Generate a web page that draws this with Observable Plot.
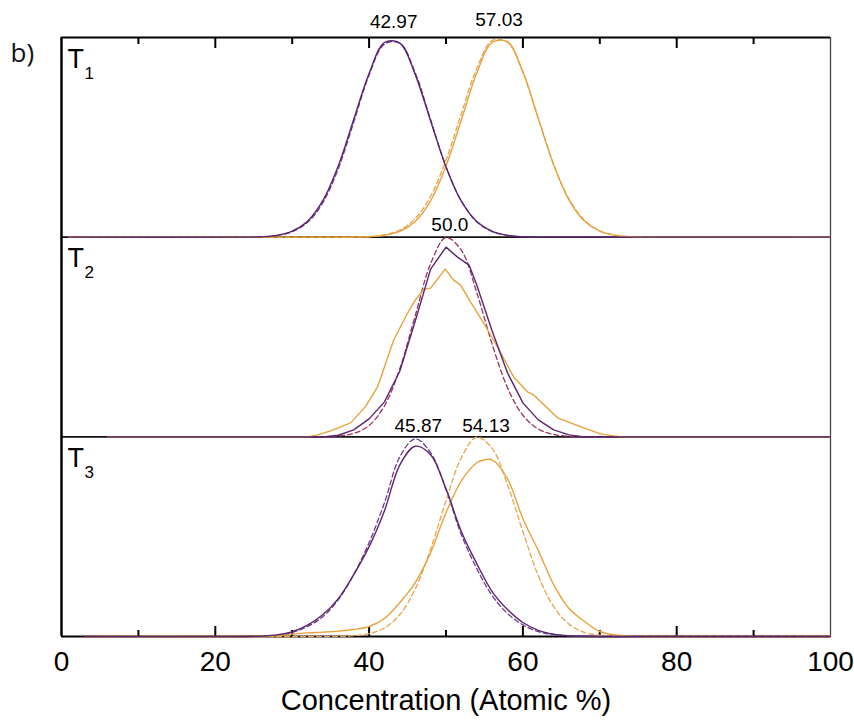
<!DOCTYPE html>
<html>
<head>
<meta charset="utf-8">
<script src="https://cdn.jsdelivr.net/npm/d3@7"></script>
<script src="https://cdn.jsdelivr.net/npm/@observablehq/plot@0.6"></script>
<style>
  html, body { margin: 0; padding: 0; background: #ffffff; }
  #chart svg { display: block; }
</style>
</head>
<body>
<div id="chart"></div>
<script>
// ---------------- data ----------------
const panelNames = ["T", "T", "T"];
const panelSubs = ["1", "2", "3"];

// common concentration grid (Atomic %)
const gridX = [24,26,28,30,32,34,36,38,40,42,44,46,48,50,52,54,56,58,60,62,64,66,68,70,72,74,76];

// T1 (normalised intensity)
const t1PurpleSolid  = [0,0.002,0.009,0.030,0.080,0.184,0.358,0.589,0.820,0.975,0.972,0.814,0.582,0.352,0.180,0.078,0.029,0.009,0.002,0,0,0,0,0,0,0,0];
const t1PurpleDashed = [0,0.002,0.008,0.027,0.074,0.174,0.344,0.576,0.812,0.967,0.971,0.823,0.588,0.354,0.180,0.077,0.028,0.009,0.002,0,0,0,0,0,0,0,0];
const t1OrangeSolid  = [0,0,0,0,0,0,0,0,0.002,0.009,0.029,0.079,0.182,0.356,0.588,0.822,0.975,0.978,0.828,0.595,0.362,0.186,0.081,0.030,0.009,0.002,0];
const t1OrangeDashed = [0,0,0,0,0,0,0,0.001,0.003,0.012,0.036,0.093,0.205,0.386,0.619,0.845,0.984,0.976,0.825,0.594,0.365,0.191,0.085,0.032,0.010,0.003,0];

// T2
const t2PurpleSolidX = [6,34,36,38,40,42,44,46,48,50,51.5,53,54,56,58,60,62,64,66,68,100];
const t2PurpleSolidY = [0,0,0.008,0.035,0.09,0.175,0.33,0.58,0.84,0.95,0.90,0.86,0.76,0.53,0.32,0.17,0.085,0.035,0.01,0,0];
const t2FitDashed    = [0,0,0,0,0,0,0.004,0.017,0.057,0.155,0.342,0.607,0.867,0.998,0.934,0.723,0.464,0.246,0.108,0.039,0.012,0.003,0,0,0,0,0];
const t2OrangeSolidX = [6,32,33.3,35,37.6,39.5,41.1,43.2,45,46,47.1,48,49.9,51,51.9,53.2,54.9,56.7,58.8,60.6,61.4,64.5,67.9,70.1,71.8,73,100];
const t2OrangeSolidY = [0,0,0.01,0.03,0.07,0.15,0.25,0.485,0.62,0.685,0.74,0.745,0.84,0.785,0.76,0.675,0.57,0.45,0.30,0.225,0.21,0.095,0.045,0.015,0.005,0,0];

// T3
const t3PurpleSolid  = [0,0.002,0.008,0.024,0.057,0.11,0.19,0.31,0.45,0.63,0.86,0.953,0.91,0.74,0.525,0.365,0.225,0.135,0.07,0.031,0.012,0.004,0.001,0,0,0,0];
const t3PurpleDashed = [0,0.001,0.006,0.02,0.05,0.10,0.185,0.31,0.47,0.67,0.90,0.99,0.92,0.735,0.51,0.34,0.205,0.115,0.058,0.024,0.009,0.003,0.001,0,0,0,0];
const t3OrangeSolidX = [3,26,28,30,32,34,36,38,40,42,44,46,48,50,52,54,55,56,58,60,62,64,66,68,70,72,74,76,100];
const t3OrangeSolidY = [0,0,0.003,0.012,0.018,0.022,0.027,0.035,0.05,0.09,0.17,0.27,0.42,0.62,0.78,0.87,0.885,0.885,0.79,0.59,0.43,0.26,0.14,0.075,0.025,0.008,0.002,0,0];
const t3OrangeDashed = [0,0,0,0,0,0,0,0.004,0.014,0.043,0.110,0.238,0.438,0.680,0.896,0.998,0.942,0.760,0.525,0.305,0.150,0.062,0.021,0.006,0.001,0,0];

// peak annotations
const peakLabels = ["42.97", "57.03", "50.0", "45.87", "54.13"];
const peakLabelX = [43.2, 56.9, 50.5, 46.4, 55.2];
const peakPanel  = [0, 0, 1, 2, 2];

// axis
const xTickValues = [0, 20, 40, 60, 80, 100];
const xMinorTicks = [10, 30, 50, 70, 90];
const xMajorInner = [20, 40, 60, 80];
const xLabel = "Concentration (Atomic %)";
const figureTag = "b)";

// ---------------- layout / style ----------------
const W = 854, H = 722;
const mL = 61, mR = 24, mT = 37, mB = 86;
const unit = (H - mT - mB) / 3;       // px per panel
const px = (p) => p / unit;           // px -> data units
const PURPLE = "#5c2470";
const PURPLE_D = "#6a3a8c";
const ORANGE = "#e8a23c";
const ORANGE_D = "#e6a54c";
const MAROON_D = "#98345e";
const FONT = "'Liberation Sans', Arial, Helvetica, sans-serif";

const offset = (panel) => 2 - panel;
const gridRows = (ys, panel, start) =>
  [{x: start, y: offset(panel)}]
    .concat(gridX.map((x, i) => ({x, y: ys[i] + offset(panel)})))
    .concat([{x: 100, y: offset(panel)}]);
const xyRows = (xs, ys, panel) => xs.map((x, i) => ({x, y: ys[i] + offset(panel)}));

const series = [
  {rows: gridRows(t1PurpleDashed, 0, 1), stroke: PURPLE_D, dash: true},
  {rows: gridRows(t1OrangeDashed, 0, 1), stroke: ORANGE_D, dash: true},
  {rows: gridRows(t1OrangeSolid, 0, 1), stroke: ORANGE, dash: false},
  {rows: gridRows(t1PurpleSolid, 0, 1), stroke: PURPLE, dash: false},
  {rows: gridRows(t2FitDashed, 1, 6), stroke: MAROON_D, dash: true},
  {rows: xyRows(t2OrangeSolidX, t2OrangeSolidY, 1), stroke: ORANGE, dash: false, linear: true},
  {rows: xyRows(t2PurpleSolidX, t2PurpleSolidY, 1), stroke: PURPLE, dash: false, linear: true},
  {rows: gridRows(t3PurpleDashed, 2, 3), stroke: PURPLE_D, dash: true},
  {rows: gridRows(t3OrangeDashed, 2, 3), stroke: ORANGE_D, dash: true},
  {rows: xyRows(t3OrangeSolidX, t3OrangeSolidY, 2), stroke: ORANGE, dash: false},
  {rows: gridRows(t3PurpleSolid, 2, 3), stroke: PURPLE, dash: false}
];

const marks = [];

// frame and panel dividers
marks.push(Plot.ruleY([1, 2], {stroke: "#111", strokeWidth: 1.6}));
marks.push(Plot.ruleY([0, 3], {stroke: "#000", strokeWidth: 2}));
marks.push(Plot.ruleX([100], {stroke: "#444", strokeWidth: 1.3}));
marks.push(Plot.ruleX([0], {stroke: "#000", strokeWidth: 2.5}));

// inward ticks (top and bottom)
marks.push(Plot.ruleX(xMajorInner, {y1: 3, y2: 3 - px(11), stroke: "#000", strokeWidth: 2}));
marks.push(Plot.ruleX(xMinorTicks, {y1: 3, y2: 3 - px(7), stroke: "#000", strokeWidth: 2}));
marks.push(Plot.ruleX(xMajorInner, {y1: 0, y2: px(10), stroke: "#000", strokeWidth: 2}));
marks.push(Plot.ruleX(xMinorTicks, {y1: 0, y2: px(6), stroke: "#000", strokeWidth: 2}));

// curves
for (const s of series) {
  marks.push(Plot.line(s.rows, {
    x: "x", y: "y",
    stroke: s.stroke,
    strokeWidth: s.dash ? 1.3 : 1.4,
    strokeDasharray: s.dash ? "5,3" : null,
    curve: s.linear ? "linear" : "catmull-rom"
  }));
}

// panel labels T with subscripts
panelNames.forEach((t, i) => {
  marks.push(Plot.text([t], {x: 0, y: 3 - i, text: d => d, dx: 6, dy: 11,
    textAnchor: "start", lineAnchor: "top", fontSize: 27, fontFamily: FONT, fill: "#000"}));
  marks.push(Plot.text([panelSubs[i]], {x: 0, y: 3 - i, text: d => d, dx: 23, dy: 29,
    textAnchor: "start", lineAnchor: "top", fontSize: 17, fontFamily: FONT, fill: "#000"}));
});

// peak labels
const peakDy = [-15.5, -17.5, -12, -11, -11];
peakLabels.forEach((lab, i) => {
  marks.push(Plot.text([lab], {x: peakLabelX[i], y: 3 - peakPanel[i], text: d => d,
    dy: peakDy[i], fontSize: 19, fontFamily: FONT, fill: "#000", lineAnchor: "middle"}));
});

// figure tag "b)"
marks.push(Plot.text([figureTag], {x: 0, y: 3, text: d => d, dx: -51, dy: 6,
  textAnchor: "start", lineAnchor: "top", fontSize: 26, fontFamily: "'Open Sans', 'DejaVu Sans', sans-serif", fill: "#111"}));

// x axis tick labels
marks.push(Plot.axisX(xTickValues, {anchor: "bottom", tickSize: 0, tickPadding: 15,
  fontSize: 28, fontFamily: FONT, label: null, tickFormat: d => String(d)}));

// x axis title
marks.push(Plot.text([xLabel], {frameAnchor: "bottom", text: d => d, dy: 64,
  lineAnchor: "middle", fontSize: 29, fontFamily: FONT, fill: "#000"}));

const chart = Plot.plot({
  width: W, height: H,
  marginLeft: mL, marginRight: mR, marginTop: mT, marginBottom: mB,
  x: {domain: [0, 100], label: null},
  y: {domain: [0, 3], axis: null, label: null},
  style: {background: "#ffffff", color: "#000", fontFamily: FONT, overflow: "visible"},
  marks
});
document.getElementById("chart").appendChild(chart);
</script>
</body>
</html>
